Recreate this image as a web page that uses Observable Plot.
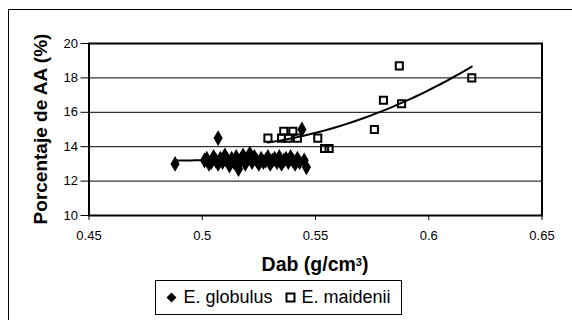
<!DOCTYPE html>
<html>
<head>
<meta charset="utf-8">
<script src="https://cdn.jsdelivr.net/npm/d3@7"></script>
<script src="https://cdn.jsdelivr.net/npm/@observablehq/plot@0.6"></script>
<style>
  html, body { margin: 0; padding: 0; background: #fff; width: 572px; height: 320px; overflow: hidden; }
  body { position: relative; font-family: "Liberation Sans", Arial, sans-serif; }
  #frame { position: absolute; left: 8px; top: 9px; width: 640px; height: 400px; border: 1.5px solid #000; box-sizing: border-box; }
  #chart { position: absolute; left: 0; top: 0; }
  #ytitle { position: absolute; left: 41px; top: 129px; transform: translate(-50%, -50%) rotate(-90deg); font-weight: bold; font-size: 19px; white-space: nowrap; }
  #xtitle { position: absolute; left: 315px; top: 253px; transform: translateX(-50%); font-weight: bold; font-size: 19.5px; white-space: nowrap; line-height: 22px; }
  #xtitle sup { font-size: 11px; position: relative; top: -2px; vertical-align: top; }
  #legend { position: absolute; left: 155px; top: 280px; width: 247px; height: 35px; border: 1px solid #000; box-sizing: border-box; font-size: 18px; display: flex; align-items: center; justify-content: center; gap: 12px; background: #fff; }
  #legend span.item { display: flex; align-items: center; gap: 6px; }
</style>
</head>
<body>
<div id="frame"></div>
<div id="chart"></div>
<div id="ytitle">Porcentaje de AA (%)</div>
<div id="xtitle">Dab (g/cm<sup>3</sup>)</div>
<div id="legend"></div>
<script>
// ---- data ----
const xTicks = [0.45, 0.5, 0.55, 0.6, 0.65];
const xTickLabels = ["0.45", "0.5", "0.55", "0.6", "0.65"];
const yTicks = [10, 12, 14, 16, 18, 20];
const seriesNames = ["E. globulus", "E. maidenii"];

const globulusX = [0.488, 0.501, 0.502, 0.503, 0.504, 0.505, 0.506, 0.507, 0.507, 0.508, 0.509, 0.510, 0.511, 0.512, 0.513, 0.514, 0.515, 0.516, 0.517, 0.518, 0.519, 0.520, 0.521, 0.522, 0.523, 0.524, 0.525, 0.526, 0.527, 0.528, 0.529, 0.530, 0.531, 0.532, 0.533, 0.534, 0.535, 0.536, 0.537, 0.538, 0.539, 0.540, 0.541, 0.542, 0.543, 0.544, 0.545, 0.546];
const globulusY = [13.0, 13.2, 13.3, 13.0, 13.1, 13.4, 13.2, 14.5, 13.0, 13.3, 13.1, 13.5, 13.2, 12.9, 13.3, 13.1, 13.4, 12.7, 13.2, 13.5, 13.0, 13.3, 13.6, 13.1, 13.4, 13.2, 13.0, 13.3, 13.1, 13.2, 13.4, 13.0, 13.2, 13.3, 13.1, 13.4, 13.0, 13.2, 13.3, 13.1, 13.4, 13.2, 13.0, 13.3, 13.1, 15.0, 13.2, 12.8];

const maideniiX = [0.529, 0.535, 0.536, 0.538, 0.540, 0.542, 0.551, 0.554, 0.556, 0.576, 0.580, 0.587, 0.588, 0.619];
const maideniiY = [14.5, 14.5, 14.9, 14.5, 14.9, 14.5, 14.5, 13.9, 13.9, 15.0, 16.7, 18.7, 16.5, 18.0];

// ---- tables ----
const globulus = globulusX.map((x, i) => ({x, y: globulusY[i]}));
const maidenii = maideniiX.map((x, i) => ({x, y: maideniiY[i]}));

// least-squares polynomial fit
function polyfit(xs, ys, deg) {
  const n = deg + 1;
  const A = Array.from({length: n}, () => new Array(n + 1).fill(0));
  for (let k = 0; k < xs.length; k++) {
    for (let i = 0; i < n; i++) {
      for (let j = 0; j < n; j++) A[i][j] += Math.pow(xs[k], i + j);
      A[i][n] += ys[k] * Math.pow(xs[k], i);
    }
  }
  for (let i = 0; i < n; i++) {
    let p = i;
    for (let r = i + 1; r < n; r++) if (Math.abs(A[r][i]) > Math.abs(A[p][i])) p = r;
    [A[i], A[p]] = [A[p], A[i]];
    for (let r = 0; r < n; r++) {
      if (r === i) continue;
      const f = A[r][i] / A[i][i];
      for (let c = i; c <= n; c++) A[r][c] -= f * A[i][c];
    }
  }
  const coef = A.map((row, i) => row[n] / row[i]);
  return x => coef.reduce((s, c, i) => s + c * Math.pow(x, i), 0);
}
function trend(xs, ys, deg) {
  const f = polyfit(xs, ys, deg);
  const [a, b] = d3.extent(xs);
  return d3.range(0, 41).map(i => { const x = a + (b - a) * i / 40; return {x, y: f(x)}; });
}
const gTrend = trend(globulusX, globulusY, 1);
const mTrend = trend(maideniiX, maideniiY, 2);

const W = 572, H = 280;
const chart = Plot.plot({
  width: W,
  height: H,
  marginLeft: 88.5,
  marginRight: 30.5,
  marginTop: 43,
  marginBottom: 65,
  style: { fontFamily: "'Liberation Sans', Arial, sans-serif", fontSize: "13px", background: "transparent", overflow: "visible" },
  x: { domain: [0.45, 0.65], ticks: xTicks, label: null },
  y: { domain: [10, 20], ticks: yTicks, label: null },
  marks: [
    Plot.ruleY(yTicks.slice(1, -1), { stroke: "#000", strokeWidth: 1 }),
    Plot.axisX({ ticks: xTicks, tickFormat: d => xTickLabels[xTicks.indexOf(d)], tickSize: 5, tickPadding: 10, stroke: "#000", strokeOpacity: 1, fontSize: 13, label: null }),
    Plot.axisY({ ticks: yTicks, tickSize: 8, tickPadding: 3, stroke: "#000", strokeOpacity: 1, fontSize: 13, label: null }),
    Plot.frame({ stroke: "#000", strokeWidth: 2 }),
    Plot.line(gTrend, { x: "x", y: "y", stroke: "#000", strokeWidth: 2 }),
    Plot.line(mTrend, { x: "x", y: "y", stroke: "#000", strokeWidth: 2 }),
    Plot.dot(globulus, { x: "x", y: "y", symbol: "diamond", r: 4.8, fill: "#000", stroke: "none" }),
    Plot.dot(maidenii, { x: "x", y: "y", symbol: "square", r: 4, fill: "none", stroke: "#000", strokeWidth: 2 })
  ]
});
document.getElementById("chart").appendChild(chart);

// legend
const legend = document.getElementById("legend");
const symbols = [
  '<svg width="11" height="11"><path d="M5.5,0.5 L10.5,5.5 L5.5,10.5 L0.5,5.5 Z" fill="#000"/></svg>',
  '<svg width="11" height="11"><rect x="1.5" y="1.5" width="8" height="8" fill="none" stroke="#000" stroke-width="2"/></svg>'
];
seriesNames.forEach((name, i) => {
  const s = document.createElement("span");
  s.className = "item";
  s.innerHTML = symbols[i] + "<span>" + name + "</span>";
  legend.appendChild(s);
});
</script>
</body>
</html>
